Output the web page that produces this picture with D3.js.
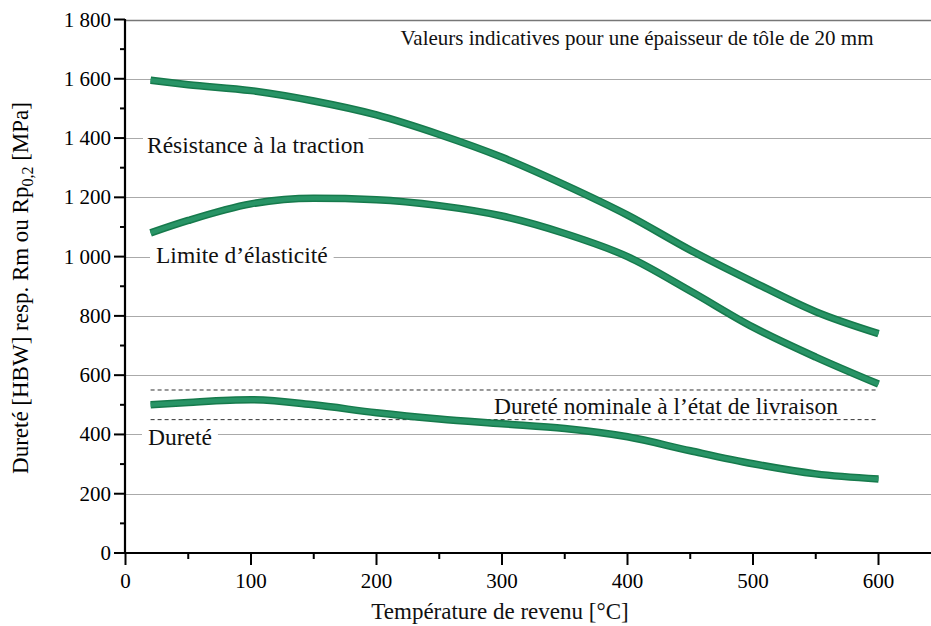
<!DOCTYPE html>
<html>
<head>
<meta charset="utf-8">
<script src="https://cdn.jsdelivr.net/npm/d3@7/dist/d3.min.js"></script>
<style>
  html, body { margin: 0; padding: 0; background: #fff; }
  svg { display: block; font-family: "Liberation Serif", "Times New Roman", serif; }
</style>
</head>
<body>
<div id="chart"></div>
<script>
// Tempering chart.
const temperatures = [20, 50, 100, 150, 200, 250, 300, 350, 400, 450, 500, 550, 600];
const tensileStrength = [1595, 1580, 1560, 1525, 1478, 1412, 1335, 1242, 1140, 1022, 915, 814, 740];
const yieldStrength   = [1080, 1122, 1178, 1197, 1192, 1172, 1137, 1078, 1000, 884, 762, 661, 570];
const hardness        = [500, 508, 517, 500, 473, 452, 436, 420, 392, 345, 301, 267, 250];
const nominalHardness = [450, 550];
const nominalRange = [20, 600];
const xTicks = [0, 100, 200, 300, 400, 500, 600];
const yTicks = [0, 200, 400, 600, 800, 1000, 1200, 1400, 1600, 1800];

const W = 931, H = 626;
const x = d3.scaleLinear().domain([0, 600]).range([125.5, 878.5]);
const y = d3.scaleLinear().domain([0, 1800]).range([553, 19.5]);

const svg = d3.select("#chart").append("svg")
    .attr("width", W).attr("height", H);

// Grid lines run to the right edge.
svg.append("g").selectAll("line")
    .data(yTicks.filter((d) => d > 0))
    .enter().append("line")
    .attr("x1", 125).attr("x2", W)
    .attr("y1", (d) => Math.round(y(d)) + 0.5).attr("y2", (d) => Math.round(y(d)) + 0.5)
    .attr("stroke", (d) => d === 1800 ? "#777" : "#aaa")
    .attr("stroke-width", (d) => d === 1800 ? 1.5 : 1);

// Nominal hardness band (dashed).
svg.append("g").selectAll("line")
    .data(nominalHardness)
    .enter().append("line")
    .attr("x1", x(nominalRange[0])).attr("x2", x(nominalRange[1]))
    .attr("y1", (d) => y(d)).attr("y2", (d) => y(d))
    .attr("stroke", "#333").attr("stroke-width", 1)
    .attr("stroke-dasharray", "4,3");

// Curve labels; some get a white box so they cut the grid line.
function label(txt, px, py, anchor, size) {
    return svg.append("text")
        .attr("x", px).attr("y", py)
        .attr("text-anchor", anchor || "start")
        .attr("font-size", size || 23.5)
        .attr("fill", "#111")
        .text(txt);
}
function labelBg(txt, px, py, padX) {
    const t = label(txt, px, py);
    const b = t.node().getBBox();
    svg.insert("rect", "text")
        .attr("x", b.x - padX).attr("y", b.y + 4)
        .attr("width", b.width + padX * 2).attr("height", b.height - 6)
        .attr("fill", "#fff");
}
labelBg("Résistance à la traction", 147, 153, 4);
labelBg("Limite d’élasticité", 156, 263, 6);
labelBg("Dureté", 148, 445, 6);
label("Dureté nominale à l’état de livraison", 666, 414, "middle");
label("Valeurs indicatives pour une épaisseur de tôle de 20 mm", 637, 45, "middle", 21);

// Curves
const line = d3.line()
    .x((d) => x(d[0]))
    .y((d) => y(d[1]))
    .curve(d3.curveMonotoneX);

const series = [tensileStrength, yieldStrength, hardness];
const curves = svg.append("g");
series.forEach((vals) => {
    const pts = temperatures.map((t, i) => [t, vals[i]]);
    curves.append("path").attr("d", line(pts))
        .attr("fill", "none").attr("stroke", "#167a4c").attr("stroke-width", 7.5);
    curves.append("path").attr("d", line(pts))
        .attr("fill", "none").attr("stroke", "#289466").attr("stroke-width", 4.5);
});

// Axes
const axes = svg.append("g").attr("stroke", "#000");
axes.append("line").attr("x1", 125).attr("x2", 125).attr("y1", 19).attr("y2", 554)
    .attr("stroke-width", 2.2);
axes.append("line").attr("x1", 124).attr("x2", W).attr("y1", 553).attr("y2", 553)
    .attr("stroke-width", 2.2);

// Y ticks: major every 200, minor every 100
d3.range(0, 1801, 100).forEach((v) => {
    const major = v % 200 === 0;
    axes.append("line")
        .attr("x1", major ? 114 : 120).attr("x2", 125)
        .attr("y1", y(v)).attr("y2", y(v))
        .attr("stroke-width", 2);
});
// X ticks: major every 100, minor every 50
d3.range(0, 651, 50).forEach((v) => {
    const major = v % 100 === 0;
    axes.append("line")
        .attr("x1", x(v)).attr("x2", x(v))
        .attr("y1", 553).attr("y2", major ? 565 : 559)
        .attr("stroke-width", 2);
});

svg.append("g").selectAll("text")
    .data(yTicks).enter().append("text")
    .attr("x", 111).attr("y", (d) => y(d) + 7)
    .attr("text-anchor", "end").attr("font-size", 21)
    .text((d) => d >= 1000 ? Math.floor(d / 1000) + " " + String(d % 1000).padStart(3, "0") : d);

svg.append("g").selectAll("text")
    .data(xTicks).enter().append("text")
    .attr("x", (d) => x(d)).attr("y", 588)
    .attr("text-anchor", "middle").attr("font-size", 21)
    .text((d) => d);

label("Température de revenu [°C]", 500, 619, "middle", 23);

const yl = svg.append("text")
    .attr("transform", "translate(28,288) rotate(-90)")
    .attr("text-anchor", "middle").attr("font-size", 23);
yl.append("tspan").text("Dureté [HBW] resp. Rm ou Rp");
yl.append("tspan").attr("font-size", 16).attr("dy", 5).text("0,2");
yl.append("tspan").attr("dy", -5).text(" [MPa]");
</script>
</body>
</html>
